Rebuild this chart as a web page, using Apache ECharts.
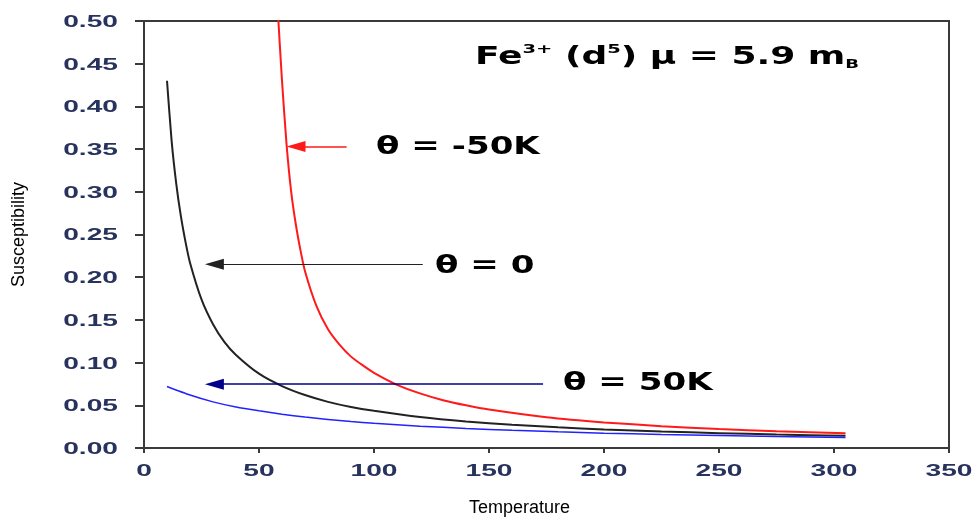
<!DOCTYPE html>
<html><head><meta charset="utf-8">
<script src="https://cdn.jsdelivr.net/npm/echarts@6/dist/echarts.min.js"></script>
<style>html,body{margin:0;padding:0;background:#fff}#c{width:976px;height:518px}</style>
</head><body><div id="c"></div>
<script>
// ---- data ----
const xTickValues = [0, 50, 100, 150, 200, 250, 300, 350];
const xTickLabels = ['0', '50', '100', '150', '200', '250', '300', '350'];
const yTickValues = [0, 0.05, 0.10, 0.15, 0.20, 0.25, 0.30, 0.35, 0.40, 0.45, 0.50];
const yTickLabels = ['0.00', '0.05', '0.10', '0.15', '0.20', '0.25', '0.30', '0.35', '0.40', '0.45', '0.50'];

// theta = -50K curve (red)
const redT   = [58, 60, 62, 64, 66, 68, 70, 75, 80, 85, 90, 95, 100, 110, 120, 130, 140, 150, 175, 200, 225, 250, 275, 305];
const redChi = [0.52, 0.43, 0.355, 0.30, 0.262, 0.232, 0.207, 0.166, 0.139, 0.121, 0.107, 0.097, 0.088, 0.074, 0.064, 0.056, 0.050, 0.045, 0.036, 0.030, 0.0256, 0.0222, 0.0197, 0.0172];
// theta = 0 curve (black)
const blackT   = [10, 12, 14, 16, 18, 20, 25, 30, 35, 40, 50, 60, 70, 80, 90, 100, 120, 140, 160, 180, 200, 225, 250, 275, 305];
const blackChi = [0.43, 0.36, 0.31, 0.272, 0.242, 0.217, 0.174, 0.145, 0.124, 0.109, 0.087, 0.0725, 0.062, 0.054, 0.048, 0.0435, 0.0362, 0.031, 0.0272, 0.0242, 0.0218, 0.0193, 0.0174, 0.0158, 0.0143];
// theta = 50K curve (blue)
const blueT   = [10, 20, 30, 40, 50, 60, 70, 80, 90, 100, 120, 140, 160, 180, 200, 225, 250, 275, 305];
const blueChi = [0.072, 0.062, 0.054, 0.048, 0.0435, 0.0395, 0.0362, 0.0335, 0.031, 0.029, 0.0256, 0.0229, 0.0207, 0.0189, 0.0174, 0.0158, 0.0145, 0.0134, 0.0123];

const seriesNames = ['θ = -50K', 'θ = 0', 'θ = 50K'];
const xName = 'Temperature';
const yName = 'Susceptibility';

// annotation anchors in data coordinates [T, chi]
const arrowRed   = [[88.1, 0.3531], [66.1, 0.3531]];
const arrowBlack = [[121.2, 0.2153], [30.6, 0.2153]];
const arrowBlue  = [[173.5, 0.0747], [30.6, 0.0747]];
const labelAnchors = [[100.9, 0.3511], [126.5, 0.2127], [182.2, 0.0756]];
const titleAnchor = [143.9, 0.4575];

// ---- chart ----
const zip = (a, b) => a.map((v, i) => [v, b[i]]);
const axisColor = '#3a3a3a';
const chart = echarts.init(document.getElementById('c'), null, {renderer: 'canvas'});

function arrow(pts, color, width) {
  return {
    silent: true, animation: false,
    symbol: ['none', 'triangle'], symbolSize: [11, 19],
    label: {show: false},
    lineStyle: {color: color, width: width, type: 'solid'},
    emphasis: {disabled: true},
    data: [[{coord: pts[0]}, {coord: pts[1]}]]
  };
}

const option = {
  animation: false,
  backgroundColor: '#ffffff',
  grid: {left: 144, right: 27, top: 21, bottom: 70, outerBoundsMode: 'none', containLabel: false,
         show: true, borderColor: axisColor, borderWidth: 2, backgroundColor: 'transparent'},
  xAxis: {
    type: 'value', min: 0, max: 350, interval: 50,
    name: xName, nameLocation: 'middle', nameGap: 51,
    nameTextStyle: {fontFamily: 'Liberation Sans', fontSize: 18, color: '#000', padding: [0, 54, 0, 0]},
    axisLine: {show: true, lineStyle: {color: axisColor, width: 2}},
    axisTick: {show: true, inside: false, length: 5, lineStyle: {color: axisColor, width: 2}},
    axisLabel: {show: false},
    splitLine: {show: false}
  },
  yAxis: {
    type: 'value', min: 0, max: 0.5, interval: 0.05,
    name: yName, nameLocation: 'middle', nameGap: 116,
    nameTextStyle: {fontFamily: 'Liberation Sans', fontSize: 18, color: '#000'},
    axisLine: {show: true, lineStyle: {color: axisColor, width: 2}},
    axisTick: {show: true, inside: false, length: 9, lineStyle: {color: axisColor, width: 2}},
    axisLabel: {show: false},
    splitLine: {show: false}
  },
  series: [
    {name: seriesNames[0], type: 'line', data: zip(redT, redChi), showSymbol: false, smooth: 0.2, clip: true,
     lineStyle: {color: '#ff1a1a', width: 2}, itemStyle: {color: '#ff1a1a'}, markLine: arrow(arrowRed, '#ff1a1a', 1.5)},
    {name: seriesNames[1], type: 'line', data: zip(blackT, blackChi), showSymbol: false, smooth: 0.2, clip: true,
     lineStyle: {color: '#222222', width: 2}, itemStyle: {color: '#222222'}, markLine: arrow(arrowBlack, '#222222', 1)},
    {name: seriesNames[2], type: 'line', data: zip(blueT, blueChi), showSymbol: false, smooth: 0.2, clip: true,
     lineStyle: {color: '#2222ff', width: 1.5}, itemStyle: {color: '#2222ff'}, markLine: arrow(arrowBlue, '#000088', 1.5)}
  ]
};
chart.setOption(option);

// stretched texts (tick labels, annotations, title) placed through the chart's own scales
const tickFont = 'bold 16px "Liberation Sans"';
const tickColor = '#27335c';
const tickScale = 1.76;
const g = [];
yTickValues.forEach((v, i) => {
  const p = chart.convertToPixel({gridIndex: 0}, [0, v]);
  g.push({type: 'text', x: p[0] - 26, y: p[1] + 1.5, scaleX: tickScale, silent: true,
    style: {text: yTickLabels[i], font: tickFont, fill: tickColor, align: 'right', textAlign: 'right', verticalAlign: 'middle', textVerticalAlign: 'middle'}});
});
xTickValues.forEach((v, i) => {
  const p = chart.convertToPixel({gridIndex: 0}, [v, 0]);
  g.push({type: 'text', x: p[0], y: p[1] + 23.5, scaleX: tickScale, silent: true,
    style: {text: xTickLabels[i], font: tickFont, fill: tickColor, align: 'center', textAlign: 'center', verticalAlign: 'middle', textVerticalAlign: 'middle'}});
});
const annFont = 'bold 24px "DejaVu Sans"';
labelAnchors.forEach((a, i) => {
  const p = chart.convertToPixel({gridIndex: 0}, a);
  g.push({type: 'text', x: p[0], y: p[1], scaleX: 1.42, silent: true,
    style: {text: seriesNames[i], font: annFont, fill: '#000', align: 'left', textAlign: 'left', verticalAlign: 'middle', textVerticalAlign: 'middle'}});
});
const tp = chart.convertToPixel({gridIndex: 0}, titleAnchor);
g.push({type: 'text', x: tp[0], y: tp[1], scaleX: 1.5, silent: true,
  style: {
    text: '{n|Fe}{sup|3+}{n| (d}{sup|5}{n|) μ = 5.9 m}{sub|B}',
    align: 'left', textAlign: 'left', verticalAlign: 'middle', textVerticalAlign: 'middle',
    rich: {
      n: {fontFamily: 'DejaVu Sans', fontWeight: 'bold', fontSize: 24, lineHeight: 28, fill: '#000', color: '#000'},
      sup: {fontFamily: 'DejaVu Sans', fontWeight: 'bold', fontSize: 13, lineHeight: 15, verticalAlign: 'top', fill: '#000', color: '#000'},
      sub: {fontFamily: 'DejaVu Sans', fontWeight: 'bold', fontSize: 12, lineHeight: 15, verticalAlign: 'bottom', fill: '#000', color: '#000'}
    }
  }});
chart.setOption({graphic: g});
</script>
</body></html>
